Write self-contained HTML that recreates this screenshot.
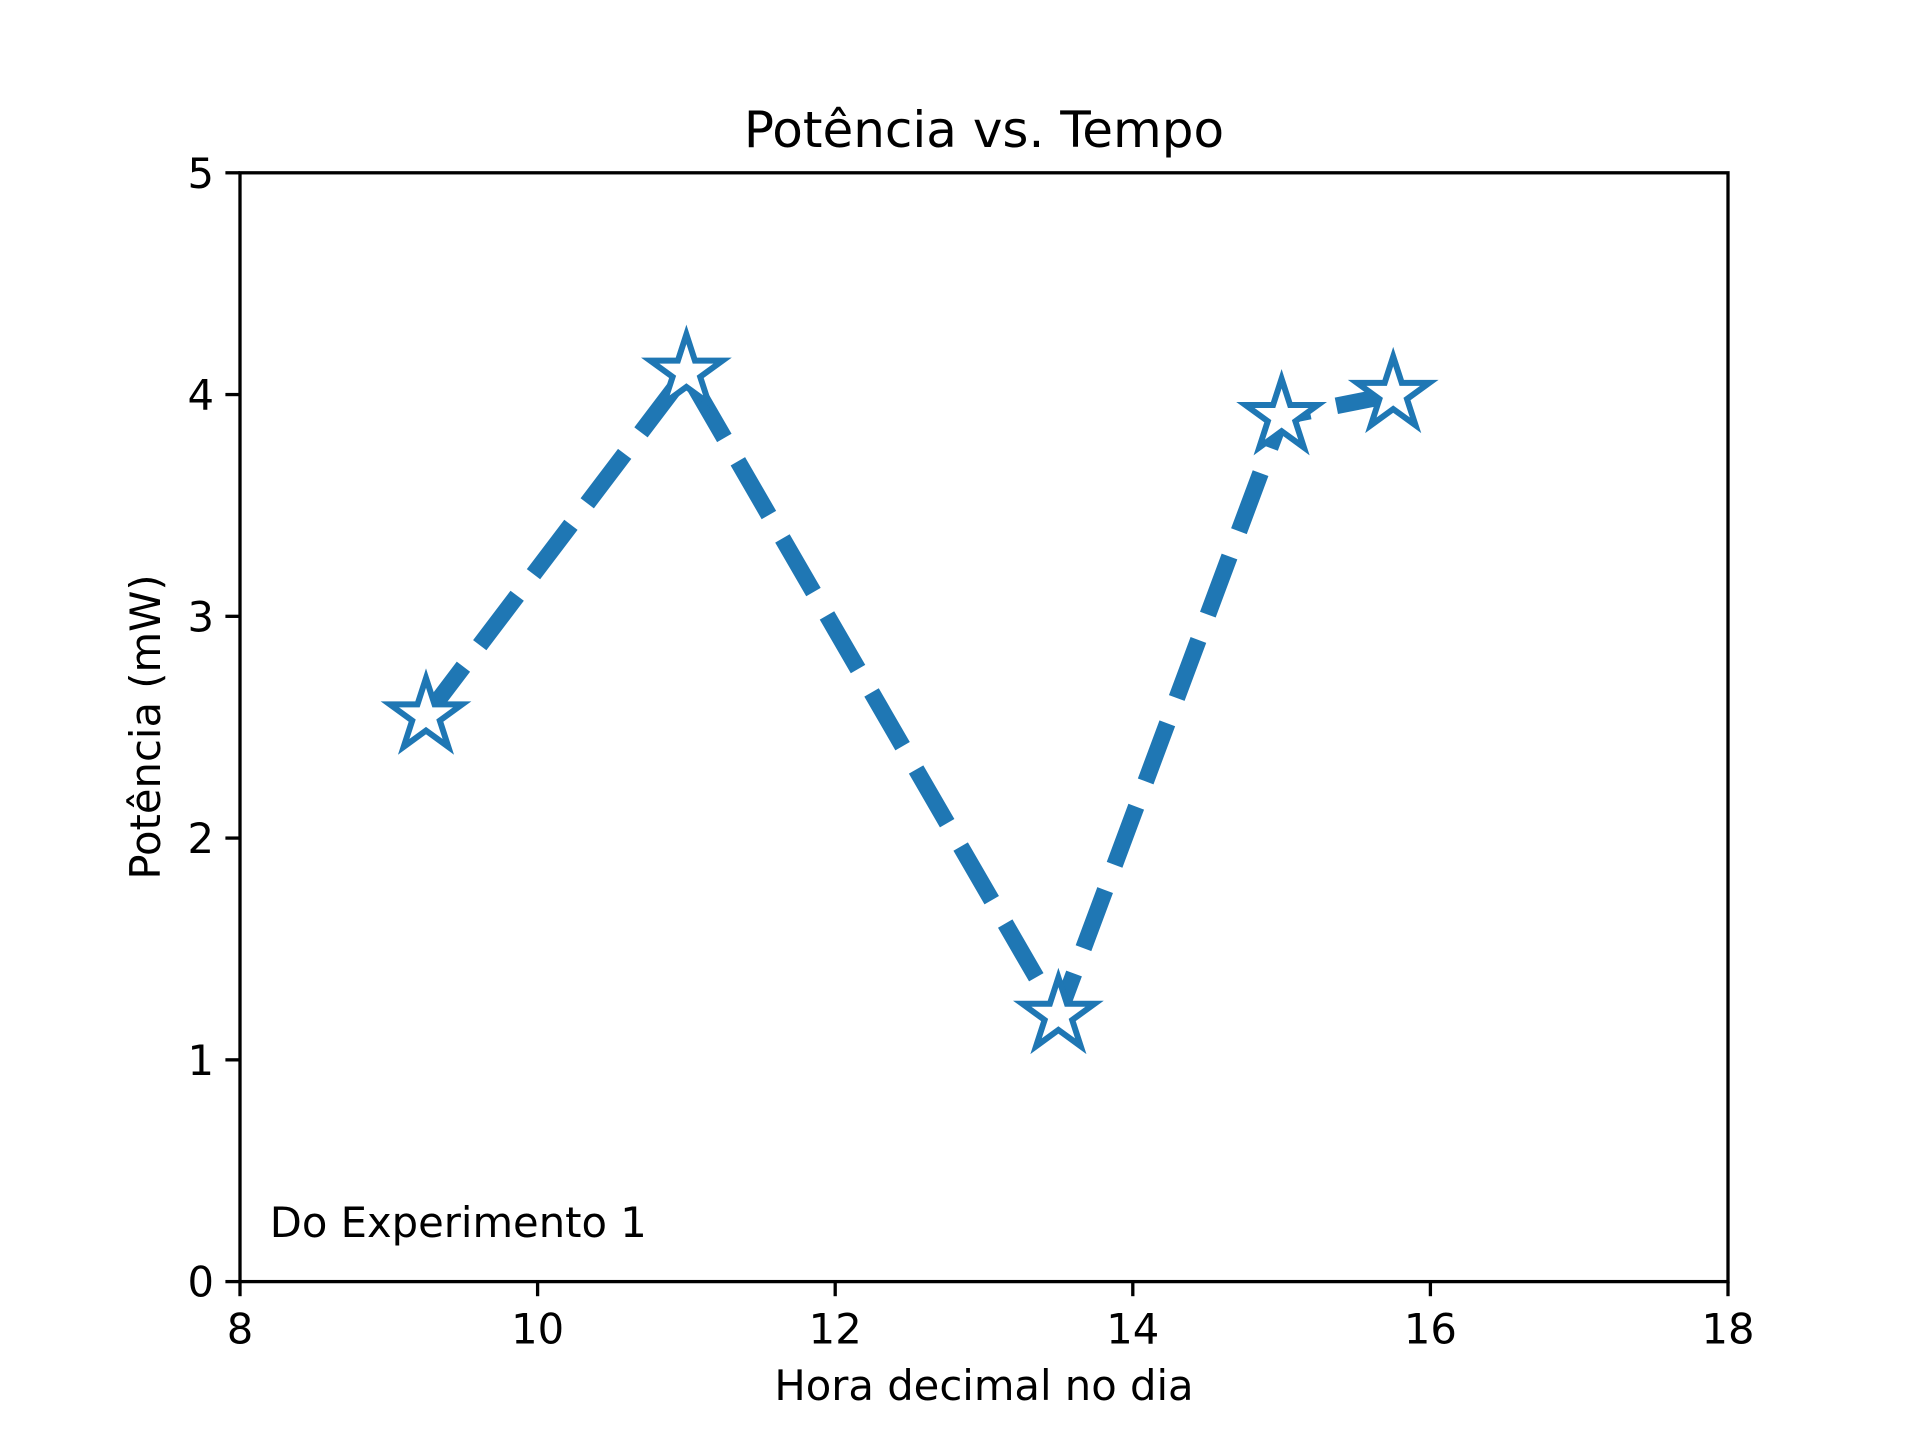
<!DOCTYPE html>
<html><head><meta charset="utf-8"><style>
html,body{margin:0;padding:0;background:#fff}
svg{display:block}
text{font-family:"DejaVu Sans","Liberation Sans",sans-serif;fill:#000}
</style></head><body>
<svg id="chart" width="1920" height="1440" viewBox="0 0 1920 1440" xmlns="http://www.w3.org/2000/svg">
<rect width="1920" height="1440" fill="#fff"/>
<text x="984" y="147" font-size="50" text-anchor="middle">Potência vs. Tempo</text>
<g id="plot"></g>
<text x="984" y="1400" font-size="41.7" text-anchor="middle">Hora decimal no dia</text>
<text transform="translate(160,727) rotate(-90)" font-size="41.7" text-anchor="middle">Potência (mW)</text>
</svg>
<script>
const xValues=[9.25,11,13.5,15,15.75];
const yValues=[2.55,4.1,1.2,3.9,4.0];
const xTicks=[8,10,12,14,16,18];
const yTicks=[0,1,2,3,4,5];
const annotation="Do Experimento 1";

const L=240,R=1728,T=172.8,B=1281.6;
const xMin=8,xMax=18,yMin=0,yMax=5;
const sx=v=>L+(v-xMin)/(xMax-xMin)*(R-L);
const sy=v=>B-(v-yMin)/(yMax-yMin)*(B-T);
const NS="http://www.w3.org/2000/svg";
const g=document.getElementById('plot');
function mk(tag,attrs,parent){const e=document.createElementNS(NS,tag);for(const k in attrs)e.setAttribute(k,attrs[k]);(parent||g).appendChild(e);return e;}

xTicks.forEach(t=>{
  const l=mk('line',{x1:sx(t),x2:sx(t),y1:B,y2:B+14.6,stroke:'#000','stroke-width':3.3});
  
  
  const tx=mk('text',{x:sx(t),y:B+62,'font-size':41.7,'text-anchor':'middle'});
  tx.textContent=t;
  
  
});
yTicks.forEach(t=>{
  const l=mk('line',{x1:L-14.6,x2:L,y1:sy(t),y2:sy(t),stroke:'#000','stroke-width':3.3});
  
  
  const tx=mk('text',{x:L-26,y:sy(t)+15,'font-size':41.7,'text-anchor':'end'});
  tx.textContent=t;
  
  
});

const pts=xValues.map((x,i)=>sx(x)+','+sy(yValues[i])).join(' ');
const pl=mk('polyline',{points:pts,fill:'none',stroke:'#1f77b4','stroke-width':16.7,'stroke-dasharray':'62 27'});



function starPath(cx,cy,r){
  const ri=r*0.381966;let d='';
  for(let i=0;i<10;i++){
    const a=-Math.PI/2+i*Math.PI/5;const rr=i%2?ri:r;
    d+=(i?'L':'M')+(cx+rr*Math.cos(a)).toFixed(2)+','+(cy+rr*Math.sin(a)).toFixed(2);
  }
  return d+'Z';
}
xValues.forEach((x,i)=>{
  const p=mk('path',{d:starPath(sx(x),sy(yValues[i]),38),fill:'#fff',stroke:'#1f77b4','stroke-width':6,'stroke-linejoin':'miter'});
  
  
});

const fr=mk('rect',{x:L,y:T,width:R-L,height:B-T,fill:'none',stroke:'#000','stroke-width':3.3});



const an=mk('text',{x:sx(8.2),y:sy(0.2),'font-size':41.7});
an.textContent=annotation;


</script>
</body></html>
